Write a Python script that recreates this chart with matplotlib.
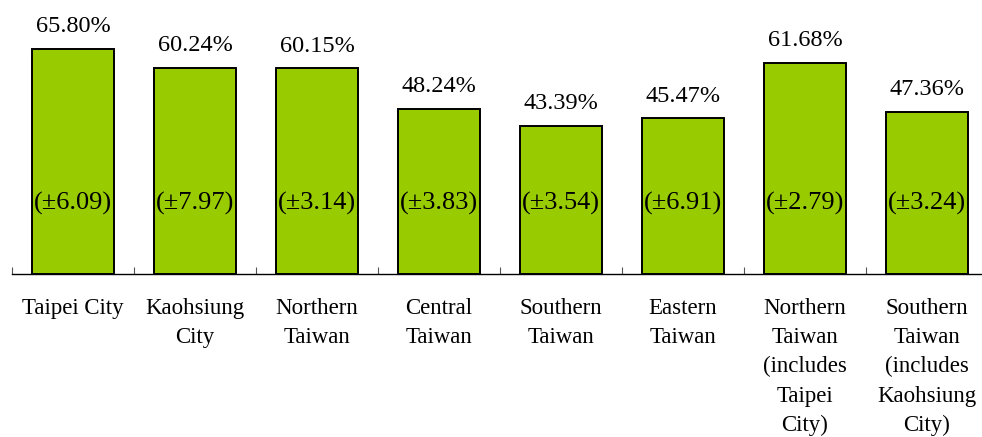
import matplotlib
matplotlib.use("Agg")
import matplotlib.pyplot as plt
import numpy as np

categories = ["Taipei City", "Kaohsiung\nCity", "Northern\nTaiwan", "Central\nTaiwan",
              "Southern\nTaiwan", "Eastern\nTaiwan",
              "Northern\nTaiwan\n(includes\nTaipei\nCity)",
              "Southern\nTaiwan\n(includes\nKaohsiung\nCity)"]
values = [65.80, 60.24, 60.15, 48.24, 43.39, 45.47, 61.68, 47.36]
margins = [6.09, 7.97, 3.14, 3.83, 3.54, 6.91, 2.79, 3.24]

plt.rcParams['font.family'] = ['Liberation Serif', 'DejaVu Serif']

W, H = 982, 437
fig = plt.figure(figsize=(W / 100, H / 100), dpi=100)
ax = fig.add_axes([12 / W, (H - 274) / H, 976 / W, 274 / H])

x = np.arange(len(categories))
ax.bar(x, values, width=0.676, color="#99CC00", edgecolor="black", linewidth=1.4, zorder=2)

for xi, v, m in zip(x, values, margins):
    ax.annotate(f"{v:.2f}%", (xi, v), xytext=(0, 12), textcoords="offset points",
                ha="center", va="baseline", fontsize=17.5)
    ax.text(xi, 18.7, f"(\u00b1{m:.2f})", ha="center", va="baseline", fontsize=19, zorder=3)

ax.set_xlim(-0.5, len(categories) - 0.5)
ax.set_ylim(0, 80.1)
for s in ["left", "right", "top"]:
    ax.spines[s].set_visible(False)
ax.spines["bottom"].set_linewidth(1.0)
ax.set_yticks([])

ax.set_xticks(np.arange(len(categories) + 1) - 0.5)
ax.set_xticklabels([])
ax.tick_params(axis="x", direction="in", length=5, width=0.8, color="#555555")
ax.set_xticks(x, minor=True)
ax.set_xticklabels(categories, minor=True, fontsize=16.5, linespacing=1.52)
ax.tick_params(axis="x", which="minor", length=0, pad=17)

fig.savefig("out.png", dpi=100)
